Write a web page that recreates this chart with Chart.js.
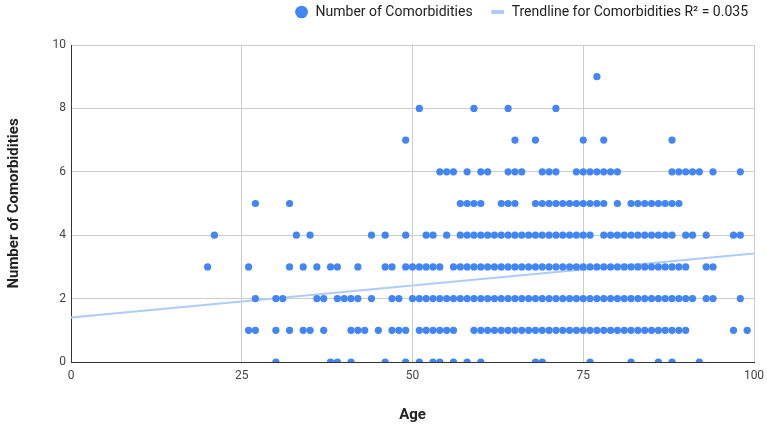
<!DOCTYPE html>
<html>
<head>
<meta charset="utf-8">
<script src="https://cdn.jsdelivr.net/npm/chart.js@4.4.0/dist/chart.umd.min.js"></script>
<style>
  html, body { margin: 0; padding: 0; background: #fff; }
  #wrap { width: 767px; height: 428px; }
</style>
</head>
<body>
<div id="wrap"><canvas id="grafico" width="767" height="428"></canvas></div>
<script>
// ages of patients, grouped by number of comorbidities
const ages0 = [30, 38, 39, 41, 46, 49, 51, 53, 54, 56, 58, 60, 68, 69, 76, 82, 86, 88, 92];
const ages1 = [26, 27, 30, 32, 34, 35, 37, 41, 42, 43, 45, 47, 48, 49, 51, 52, 53, 54, 55, 56,
  59, 60, 61, 62, 63, 64, 65, 66, 67, 68, 69, 70, 71, 72, 73, 74, 75, 76, 77, 78, 79, 80,
  81, 82, 83, 84, 85, 86, 87, 88, 89, 90, 97, 99];
const ages2 = [27, 30, 31, 36, 37, 39, 40, 41, 42, 44, 47, 48,
  50, 51, 52, 53, 54, 55, 56, 57, 58, 59, 60, 61, 62, 63, 64, 65, 66, 67, 68, 69, 70,
  71, 72, 73, 74, 75, 76, 77, 78, 79, 80, 81, 82, 83, 84, 85, 86, 87, 88, 89, 90, 91, 93, 94, 98];
const ages3 = [20, 26, 32, 34, 36, 38, 39, 42, 46, 47, 49, 50, 51, 52, 53, 54,
  56, 57, 58, 59, 60, 61, 62, 63, 64, 65, 66, 67, 68, 69, 70, 71, 72, 73, 74, 75, 76,
  77, 78, 79, 80, 81, 82, 83, 84, 85, 86, 87, 88, 89, 90, 93, 94];
const ages4 = [21, 33, 35, 44, 46, 49, 52, 53, 55,
  57, 58, 59, 60, 61, 62, 63, 64, 65, 66, 67, 68, 69, 70, 71, 72, 73, 74, 75, 76,
  78, 79, 80, 81, 82, 83, 84, 85, 86, 87, 88, 90, 91, 93, 97, 98];
const ages5 = [27, 32, 57, 58, 59, 60, 63, 64, 65, 68, 69, 70, 71, 72, 73, 74, 75, 76, 77, 78,
  80, 82, 83, 84, 85, 86, 87, 88, 89];
const ages6 = [54, 55, 56, 58, 60, 61, 64, 65, 66, 69, 70, 71, 74, 75, 76, 77, 78, 79, 80,
  88, 89, 90, 91, 92, 94, 98];
const ages7 = [49, 65, 68, 75, 78, 88];
const ages8 = [51, 59, 64, 71];
const ages9 = [77];
const agesByCount = [ages0, ages1, ages2, ages3, ages4, ages5, ages6, ages7, ages8, ages9];

// trendline (value at age 0 and at age 100)
const trendAges = [0, 100];
const trendValues = [1.40, 3.42];

const xTicks = [0, 25, 50, 75, 100];
const yTicks = [0, 2, 4, 6, 8, 10];

const pontos = [];
agesByCount.forEach(function(ages, count){
  ages.forEach(function(a){ pontos.push({x: a, y: count}); });
});
const linha = trendAges.map(function(a, i){ return {x: a, y: trendValues[i]}; });

const fonte = 'Roboto, "Liberation Sans", Arial, sans-serif';

// leave some room between the legend and the plot
const espacoLegenda = {
  id: 'espacoLegenda',
  beforeInit: function(chart){
    const fitOriginal = chart.legend.fit;
    chart.legend.fit = function(){
      fitOriginal.bind(chart.legend)();
      this.height += 16;
    };
  }
};

const config = {
  type: 'scatter',
  data: {
    datasets: [
      {
        label: 'Number of Comorbidities',
        data: pontos,
        backgroundColor: '#4285f4',
        borderWidth: 0,
        pointRadius: 3.6,
        pointStyle: 'circle',
        order: 0
      },
      {
        type: 'line',
        label: 'Trendline for Comorbidities R² = 0.035',
        data: linha,
        borderColor: '#aecbfa',
        backgroundColor: '#aecbfa',
        borderWidth: 2,
        pointRadius: 0,
        pointStyle: 'line',
        fill: false,
        order: 1
      }
    ]
  },
  options: {
    responsive: false,
    animation: false,
    layout: { padding: { top: -13, right: 1, left: 0, bottom: 0 } },
    plugins: {
      tooltip: { enabled: false },
      legend: {
        position: 'top',
        align: 'end',
        labels: {
          usePointStyle: true,
          boxHeight: 9,
          padding: 18,
          color: '#222',
          font: { family: fonte, size: 14 },
          generateLabels: function(chart){
            const itens = Chart.defaults.plugins.legend.labels.generateLabels(chart);
            itens.forEach(function(it){
              if (it.pointStyle === 'line') { it.lineWidth = 4; }
            });
            return itens;
          }
        }
      }
    },
    scales: {
      x: {
        type: 'linear',
        min: 0,
        max: 100,
        afterBuildTicks: function(s){ s.ticks = xTicks.map(function(v){ return {value: v}; }); },
        afterFit: function(s){ s.height = 66; s.paddingRight = 13; },
        grid: { color: '#cccccc', drawTicks: false },
        border: { color: '#333333', width: 1 },
        ticks: { padding: 7, color: '#444', font: { family: fonte, size: 12 } },
        title: {
          display: true,
          text: 'Age',
          color: '#222',
          font: { family: fonte, size: 15, weight: 'bold' },
          padding: { top: 20 }
        }
      },
      y: {
        type: 'linear',
        min: 0,
        max: 10,
        afterBuildTicks: function(s){ s.ticks = yTicks.map(function(v){ return {value: v}; }); },
        afterFit: function(s){ s.width = 71; },
        grid: { color: '#cccccc', drawTicks: false },
        border: { color: '#333333', width: 1 },
        ticks: { padding: 5, color: '#444', font: { family: fonte, size: 12 } },
        title: {
          display: true,
          text: 'Number of Comorbidities',
          color: '#222',
          font: { family: fonte, size: 15, weight: 'bold' },
          padding: { top: 5, bottom: 4 }
        }
      }
    }
  },
  plugins: [espacoLegenda]
};

var meuGrafico = new Chart(document.getElementById('grafico'), config);
</script>
</body>
</html>
